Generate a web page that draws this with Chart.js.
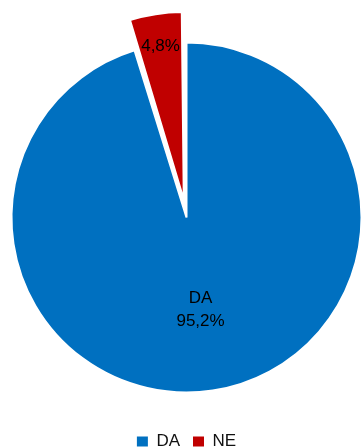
<!DOCTYPE html>
<html>
<head>
<meta charset="utf-8">
<script src="https://cdn.jsdelivr.net/npm/chart.js@4/dist/chart.umd.min.js"></script>
<style>
  html, body { margin: 0; padding: 0; background: #fff; overflow: hidden; }
  #wrap { width: 363px; height: 460px; }
</style>
</head>
<body>
<div id="wrap"><canvas id="pie" width="363" height="460"></canvas></div>
<script>
// Answer categories and their shares (%)
const categories = ['DA', 'NE'];
const shares = [95.2, 4.8];
const sliceColors = ['#0070C0', '#C00000'];

const fontFamily = '"Liberation Sans", Arial, sans-serif';
const pct = v => v.toFixed(1).replace('.', ',') + '%';

// Writes the value labels inside each slice
const sliceLabels = {
  id: 'sliceLabels',
  afterDatasetsDraw(chart, args, opts) {
    const { ctx } = chart;
    const meta = chart.getDatasetMeta(0);
    const values = chart.data.datasets[0].data;
    ctx.save();
    ctx.font = opts.size + 'px ' + fontFamily;
    ctx.fillStyle = opts.color;
    ctx.textAlign = 'center';
    ctx.textBaseline = 'middle';
    meta.data.forEach((arc, i) => {
      const p = arc.getProps(['x', 'y', 'startAngle', 'endAngle', 'outerRadius'], true);
      const mid = (p.startAngle + p.endAngle) / 2;
      const d = p.outerRadius * opts.radial[i];
      const cx = p.x + Math.cos(mid) * d;
      const cy = p.y + Math.sin(mid) * d;
      const lines = opts.showName[i]
        ? [chart.data.labels[i], pct(values[i])]
        : [pct(values[i])];
      const top = cy - (lines.length - 1) * opts.lineHeight / 2;
      lines.forEach((t, k) => ctx.fillText(t, cx, top + k * opts.lineHeight));
    });
    ctx.restore();
  }
};

new Chart(document.getElementById('pie'), {
  type: 'pie',
  data: {
    labels: categories,
    datasets: [{
      data: shares,
      backgroundColor: sliceColors,
      borderColor: '#ffffff',
      borderWidth: 2,
      offset: [0, 72]
    }]
  },
  options: {
    responsive: false,
    devicePixelRatio: 1,
    animation: false,
    radius: 175,
    layout: { padding: { left: 10, top: 15, right: 0, bottom: 0 } },
    plugins: {
      tooltip: { enabled: false },
      legend: {
        position: 'bottom',
        labels: {
          boxWidth: 11,
          boxHeight: 10,
          padding: 13,
          color: '#111111',
          font: { family: fontFamily, size: 17 },
          generateLabels(chart) {
            return Chart.overrides.pie.plugins.legend.labels.generateLabels(chart)
              .map(item => Object.assign(item, { lineWidth: 0 }));
          }
        }
      },
      sliceLabels: {
        radial: [0.534, 0.987],
        showName: [true, false],
        size: 17,
        lineHeight: 23.5,
        color: '#000000'
      }
    }
  },
  plugins: [sliceLabels]
});
</script>
</body>
</html>
